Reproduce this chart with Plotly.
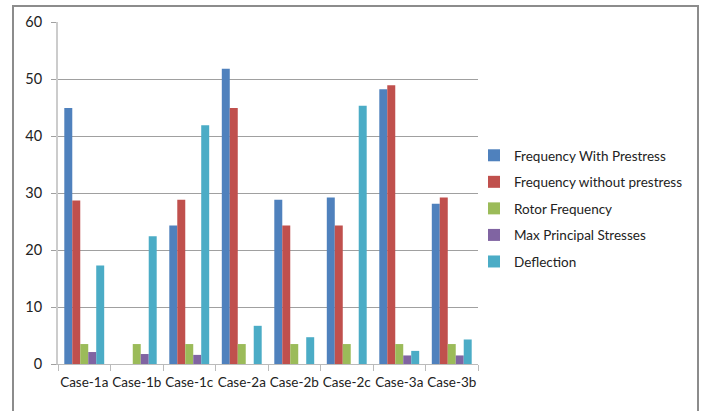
import plotly.graph_objects as go

categories = ["Case-1a", "Case-1b", "Case-1c", "Case-2a", "Case-2b", "Case-2c", "Case-3a", "Case-3b"]
freq_with_prestress = [44.9, 0, 24.3, 51.8, 28.8, 29.2, 48.2, 28.1]
freq_without_prestress = [28.7, 0, 28.8, 44.9, 24.3, 24.3, 48.9, 29.2]
rotor_frequency = [3.5, 3.5, 3.5, 3.5, 3.5, 3.5, 3.5, 3.5]
max_principal_stresses = [2.1, 1.75, 1.6, 0, 0, 0, 1.5, 1.5]
deflection = [17.3, 22.4, 41.9, 6.7, 4.7, 45.3, 2.3, 4.3]

series_names = ["Frequency With Prestress", "Frequency without prestress", "Rotor Frequency",
                "Max Principal Stresses", "Deflection"]
series_values = [freq_with_prestress, freq_without_prestress, rotor_frequency,
                 max_principal_stresses, deflection]
colors = ["#4F81BD", "#C0504D", "#9BBB59", "#8064A2", "#4BACC6"]

FONT = "Lato, 'Open Sans', sans-serif"

fig = go.Figure()
for name, vals, col in zip(series_names, series_values, colors):
    fig.add_trace(go.Bar(x=categories, y=vals, name=name, marker=dict(color=col, line=dict(width=0)),
                         legendgroup=name))

L, R, T, B = 58, 478, 22, 364
W, H = 704, 411
pw, ph = R - L, B - T

def px_x(x):
    return (x - L) / pw

def px_y(y):
    return (B - y) / ph

fig.update_layout(
    width=W, height=H,
    margin=dict(l=L, r=W - R, t=T, b=H - B, pad=0, autoexpand=False),
    paper_bgcolor="white", plot_bgcolor="white",
    barmode="group", bargap=0.24, bargroupgap=0,
    font=dict(family=FONT, size=13, color="#222"),
    showlegend=True,
    legend=dict(x=px_x(474), y=px_y(140), xanchor="left", yanchor="top",
                traceorder="grouped", tracegroupgap=6,
                font=dict(size=13.5, family=FONT, color="#222"),
                bgcolor="rgba(0,0,0,0)", itemwidth=30),
    xaxis=dict(showgrid=False, showline=True, linecolor="#BBBBBB", linewidth=1,
               ticks="outside", tickson="boundaries", ticklen=6, tickcolor="#BBBBBB",
               tickangle=0, automargin=False,
               tickfont=dict(size=13.5, family=FONT, color="#222"), ticklabelstandoff=6),
    yaxis=dict(range=[0, 60], dtick=10, showgrid=True, gridcolor="#A0A0A0", gridwidth=1,
               showline=True, linecolor="#CCCCCC", linewidth=2, automargin=False,
               ticks="outside", ticklen=5, tickcolor="#A0A0A0",
               zeroline=True, zerolinecolor="#BBBBBB", zerolinewidth=1,
               tickfont=dict(size=14.5, family=FONT, color="#222"), ticklabelstandoff=6),
    shapes=[dict(type="rect", xref="paper", yref="paper",
                 x0=px_x(13), x1=px_x(698), y0=px_y(430), y1=px_y(6),
                 line=dict(color="#8C8C8C", width=2), fillcolor="rgba(0,0,0,0)", layer="below")],
)

fig.write_html("out.html", config={"displayModeBar": False},
               post_script="document.body.style.margin='0';")
